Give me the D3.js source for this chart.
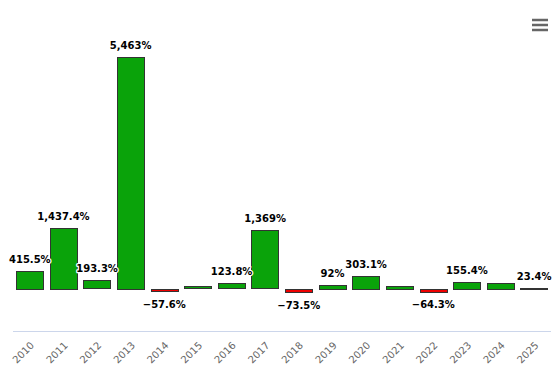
<!DOCTYPE html>
<html>
<head>
<meta charset="utf-8">
<script src="https://cdn.jsdelivr.net/npm/d3@7/dist/d3.min.js"></script>
<style>
html,body{margin:0;padding:0;background:#fff;}
svg{display:block;}
</style>
</head>
<body>
<svg id="chart" width="553" height="369"></svg>
<script>
const years = ["2010","2011","2012","2013","2014","2015","2016","2017","2018","2019","2020","2021","2022","2023","2024","2025"];
const values = [415.5, 1437.4, 193.3, 5463, -57.6, 55, 123.8, 1369, -73.5, 92, 303.1, 65, -64.3, 155.4, 135, 23.4];
const showLabel = [true, true, true, true, true, false, true, true, true, true, true, false, true, true, false, true];
const yDomain = [-1000, 6000];

const svg = d3.select("#chart");
const plotLeft = 13, plotRight = 551, plotTop = 34, plotBottom = 331;

const x = d3.scaleBand().domain(years).range([plotLeft, plotRight]).paddingInner(0.18).paddingOuter(0.09);
const y = d3.scaleLinear().domain(yDomain).range([plotBottom, plotTop]);

const green = "#0aa30a", red = "#ee0000";

svg.append("g").selectAll("rect").data(values).join("rect")
  .attr("x", (d,i) => Math.round(x(years[i])) + 0.5)
  .attr("width", Math.round(x.bandwidth()) - 1)
  .attr("y", d => Math.round(y(Math.max(0,d))) + 0.5)
  .attr("height", d => Math.max(1, Math.round(Math.abs(y(d) - y(0)))))
  .attr("fill", d => d >= 0 ? green : red)
  .attr("stroke", "#333")
  .attr("stroke-width", 1);

const fmt = d => d3.format(",")(d) + "%";
const lab = svg.append("g").attr("font-family", "DejaVu Sans, sans-serif").attr("font-size", "10px")
  .attr("font-weight", "bold").attr("text-anchor", "middle");
values.forEach((d,i) => {
  if (!showLabel[i]) return;
  const cx = x(years[i]) + x.bandwidth()/2;
  const ty = d >= 0 ? y(d) - 8 : y(d) + 17;
  [["#fff", 2.5], [null, 0]].forEach(([stk, sw]) => {
    const t = lab.append("text").attr("x", cx).attr("y", ty).text(fmt(d).replace("-", "\u2212"));
    if (stk) t.attr("stroke", stk).attr("stroke-width", sw).attr("stroke-linejoin", "round").attr("fill", "#fff");
    else t.attr("fill", "#000");
  });
});

// x axis
const xAxis = d3.axisBottom(x).tickSize(0).tickPadding(0);
const gx = svg.append("g").attr("transform", `translate(0,${plotBottom})`).call(xAxis);
gx.select(".domain").attr("stroke", "#ccd6eb").attr("d", `M${plotLeft},0.5H${plotRight}`);
gx.selectAll("text")
  .attr("font-family", "DejaVu Sans, sans-serif").attr("font-size", "10px").attr("fill", "#666")
  .attr("text-anchor", "end").attr("dy", null).attr("y", 0)
  .attr("transform", "translate(5,15) rotate(-45)");

// menu icon
const menu = svg.append("g").attr("stroke", "#666").attr("stroke-width", 2.5);
[20, 25, 30].forEach(yy => menu.append("line").attr("x1", 532).attr("x2", 548).attr("y1", yy).attr("y2", yy));
</script>
</body>
</html>
